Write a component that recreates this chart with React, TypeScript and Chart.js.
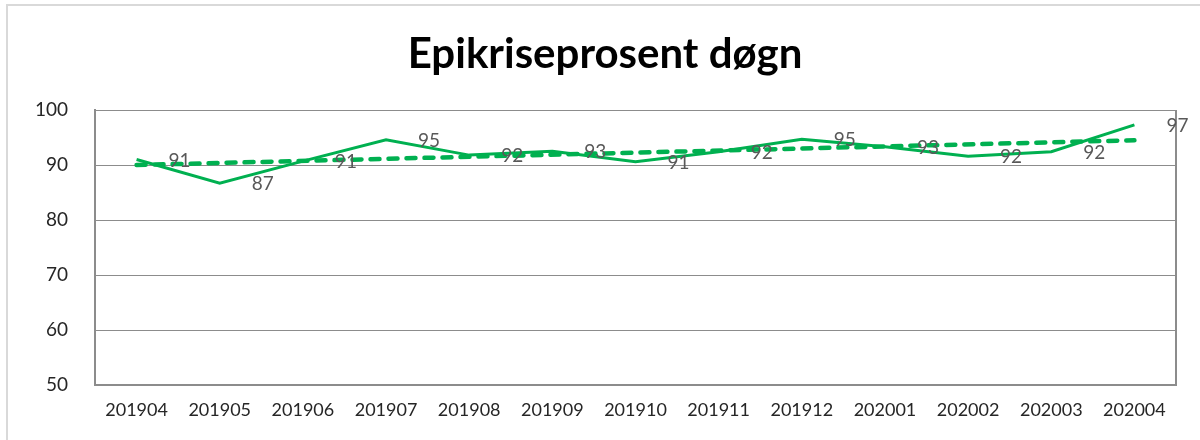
import React, { useEffect, useRef } from "react";
import { Chart, registerables } from "chart.js";

Chart.register(...registerables);

const TITLE = "Epikriseprosent døgn";
const categories = ["201904", "201905", "201906", "201907", "201908", "201909", "201910", "201911", "201912", "202001", "202002", "202003", "202004"];
const epikriseValues = [91.0, 86.7, 90.7, 94.6, 91.8, 92.5, 90.6, 92.4, 94.7, 93.3, 91.6, 92.4, 97.3];
// linear trendline read at its two ends
const trendValues = [90.0, null, null, null, null, null, null, null, null, null, null, null, 94.5];
const yTicks = { min: 50, max: 100, step: 10 };

const GREEN = "#00B050";
const FONT = "Lato, 'Noto Sans', sans-serif";

export default function App() {
  const ref = useRef<HTMLCanvasElement | null>(null);
  useEffect(() => {
    if (!ref.current) return;
    const titlePlugin = {
      id: "customTitle",
      afterDraw(chart: any) {
        const ctx = chart.ctx;
        ctx.save();
        ctx.font = `bold 42px ${FONT}`;
        ctx.fillStyle = "#000000";
        ctx.textAlign = "center";
        ctx.textBaseline = "alphabetic";
        ctx.fillText(TITLE, 605, 68);
        ctx.restore();
      },
    };
    const frameBorder = {
      id: "frameBorder",
      beforeDatasetsDraw(chart: any) {
        const { ctx, chartArea } = chart;
        ctx.save();
        ctx.strokeStyle = "#8c8c8c";
        ctx.lineWidth = 2;
        ctx.beginPath();
        ctx.moveTo(chartArea.right, chartArea.top);
        ctx.lineTo(chartArea.right, chartArea.bottom);
        ctx.stroke();
        ctx.restore();
      },
    };
    const labelPlugin = {
      id: "valueLabels",
      afterDatasetsDraw(chart: any) {
        const ctx = chart.ctx;
        const meta = chart.getDatasetMeta(0);
        ctx.save();
        ctx.font = `19px ${FONT}`;
        ctx.fillStyle = "#595959";
        ctx.textAlign = "center";
        ctx.textBaseline = "middle";
        meta.data.forEach((pt: any, i: number) => {
          const v = epikriseValues[i];
          ctx.fillText(String(Math.round(v)), pt.x + 43, pt.y + 1);
        });
        ctx.restore();
      },
    };
    const chart = new Chart(ref.current, {
      type: "line",
      data: {
        labels: categories,
        datasets: [
          {
            label: "Epikriseprosent",
            data: epikriseValues,
            borderColor: GREEN,
            borderWidth: 3,
            pointRadius: 0,
            tension: 0,
            fill: false,
          },
          {
            label: "Trend",
            data: trendValues,
            borderColor: GREEN,
            borderWidth: 4.5,
            borderDash: [9, 9],
            borderCapStyle: "round",
            pointRadius: 0,
            spanGaps: true,
            fill: false,
          },
        ],
      },
      options: {
        responsive: false,
        animation: false,
        layout: { padding: { top: 110, right: 24, left: 0, bottom: 0 } },
        plugins: {
          legend: { display: false },
          title: { display: false },
          tooltip: { enabled: false },
        },
        scales: {
          x: {
            offset: true,
            grid: { display: false, drawTicks: false, offset: true },
            border: { display: true, color: "#8c8c8c", width: 2 },
            ticks: {
              padding: 14,
              color: "#262626",
              font: { family: FONT, size: 18 },
              maxRotation: 0,
              autoSkip: false,
            },
            afterFit(scale: any) {
              scale.height = 55;
              scale.paddingLeft = 0;
              scale.paddingRight = 0;
            },
          },
          y: {
            min: yTicks.min,
            max: yTicks.max,
            grid: { color: "#8c8c8c", lineWidth: 1, drawTicks: false },
            border: { display: true, color: "#8c8c8c", width: 2 },
            ticks: {
              stepSize: yTicks.step,
              padding: 27,
              color: "#262626",
              font: { family: FONT, size: 19 },
            },
            afterFit(scale: any) {
              scale.width = 95;
            },
          },
        },
      },
      plugins: [frameBorder, labelPlugin, titlePlugin],
    });
    return () => chart.destroy();
  }, []);

  return (
    <div style={{ position: "absolute", left: 0, top: 0, width: 1200, height: 440, background: "#ffffff", overflow: "hidden" }}>
      <div
        style={{
          position: "absolute",
          left: 6,
          top: 4,
          width: 1200,
          height: 440,
          borderTop: "2px solid #d9d9d9",
          borderLeft: "2px solid #d9d9d9",
        }}
      />
      <canvas ref={ref} width={1200} height={440} style={{ position: "absolute", left: 0, top: 0 }} />
    </div>
  );
}
